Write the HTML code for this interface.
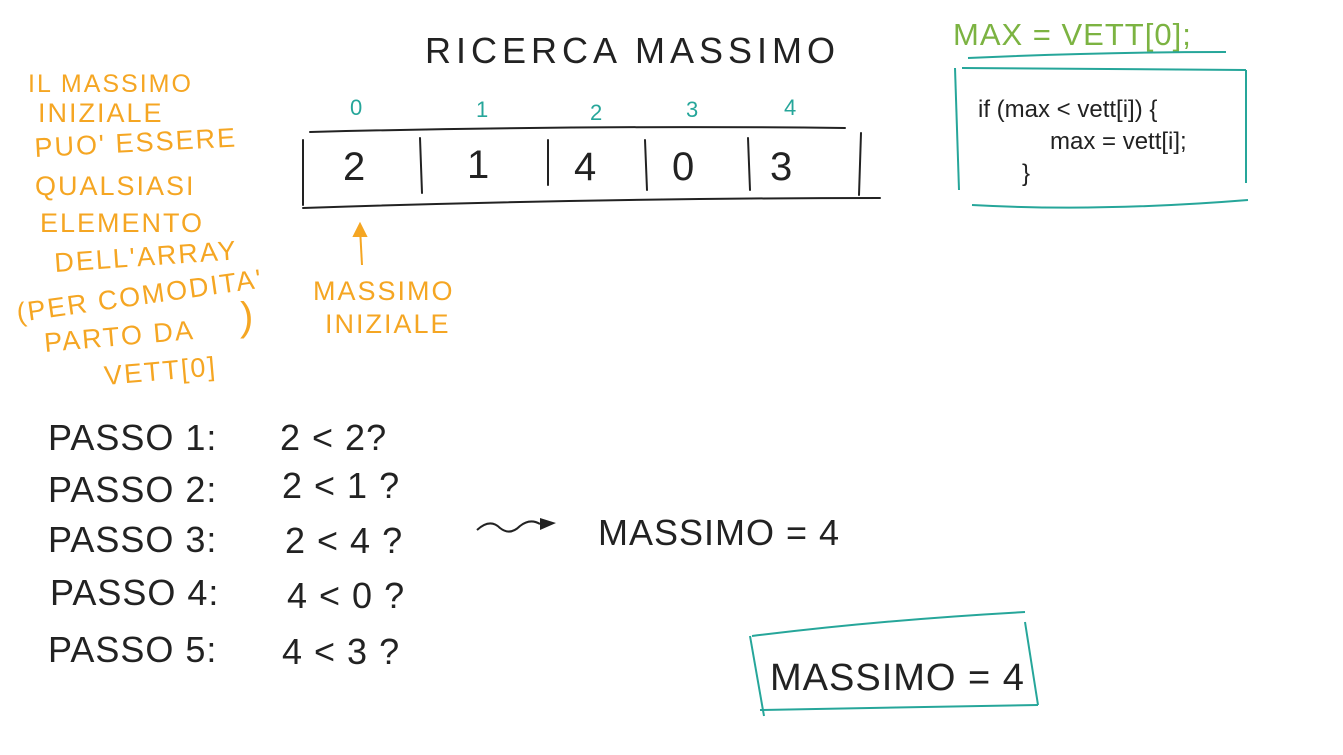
<!DOCTYPE html>
<html><head><meta charset="utf-8"><style>
html,body{margin:0;padding:0;background:#fff;width:1343px;height:755px;overflow:hidden}
svg{display:block}
.h{font-family:"Liberation Sans",sans-serif;font-weight:normal}
</style></head><body>
<svg width="1343" height="755" viewBox="0 0 1343 755" xmlns="http://www.w3.org/2000/svg">
<text class="h" x="425" y="63" font-size="36" letter-spacing="5" fill="#222">RICERCA  MASSIMO</text>
<g class="h" fill="#26a69a" font-size="22">
<text x="350" y="115">0</text><text x="476" y="117">1</text><text x="590" y="120">2</text><text x="686" y="117">3</text><text x="784" y="115">4</text>
</g>
<g stroke="#222" stroke-width="2" fill="none" stroke-linecap="round">
<path d="M310 132 Q580 125 845 128"/>
<path d="M303 208 Q600 198 880 198"/>
<path d="M303 140 L303 205"/><path d="M420 138 L422 193"/><path d="M548 140 L548 185"/><path d="M645 140 L647 190"/><path d="M748 138 L750 190"/><path d="M861 133 L859 195"/>
</g>
<g class="h" fill="#222" font-size="40">
<text x="343" y="180">2</text><text x="467" y="178">1</text><text x="574" y="180">4</text><text x="672" y="180">0</text><text x="770" y="180">3</text>
</g>
<g stroke="#f5a623" stroke-width="2" fill="#f5a623">
<path d="M362 265 L360 228" fill="none"/><path d="M354 236 L360 224 L366 236 Z"/>
</g>
<g class="h" fill="#f5a623" font-size="27" letter-spacing="2">
<text x="313" y="300">MASSIMO</text><text x="325" y="333">INIZIALE</text>
<text x="28" y="92" font-size="25">IL MASSIMO</text>
<text x="38" y="122">INIZIALE</text>
<text x="35" y="157" transform="rotate(-3 35 157)">PUO' ESSERE</text>
<text x="35" y="195">QUALSIASI</text>
<text x="40" y="232">ELEMENTO</text>
<text x="55" y="272" transform="rotate(-4 55 272)">DELL'ARRAY</text>
<text x="18" y="322" transform="rotate(-8 18 322)">(PER COMODITA'</text>
<text x="45" y="352" transform="rotate(-5 45 352)">PARTO DA</text>
<text x="240" y="330" font-size="40">)</text>
<text x="105" y="385" transform="rotate(-5 105 385)">VETT[0]</text>
</g>
<text class="h" x="953" y="45" font-size="31" fill="#7cb342" letter-spacing="1">MAX = VETT[0];</text>
<g stroke="#26a69a" stroke-width="2" fill="none">
<path d="M968 58 Q1100 52 1226 52"/>
<path d="M955 68 L959 190"/><path d="M962 68 L1246 70"/><path d="M1246 70 L1246 183"/><path d="M972 205 Q1100 212 1248 200"/>
<path d="M752 636 Q880 620 1025 612"/><path d="M750 636 L764 716"/><path d="M1025 622 L1038 705"/><path d="M760 710 Q900 708 1038 705"/>
</g>
<g font-family="Liberation Sans,sans-serif" font-size="24" fill="#222">
<text x="978" y="117">if (max &lt; vett[i]) {</text>
<text x="1050" y="149">max = vett[i];</text>
<text x="1022" y="181">}</text>
</g>
<g class="h" fill="#222" font-size="36" letter-spacing="1">
<text x="48" y="450">PASSO 1:</text><text x="280" y="450">2 &lt; 2?</text>
<text x="48" y="502">PASSO 2:</text><text x="282" y="498">2 &lt; 1 ?</text>
<text x="48" y="552">PASSO 3:</text><text x="285" y="553">2 &lt; 4 ?</text>
<text x="50" y="605">PASSO 4:</text><text x="287" y="608">4 &lt; 0 ?</text>
<text x="48" y="662">PASSO 5:</text><text x="282" y="664">4 &lt; 3 ?</text>
<text x="598" y="545">MASSIMO = 4</text>
<text x="770" y="690" font-size="38">MASSIMO = 4</text>
</g>
<path d="M477 530 Q490 518 500 528 Q510 536 520 526 Q530 518 540 524" stroke="#222" stroke-width="2" fill="none"/>
<path d="M540 518 L556 523 L540 530 Z" fill="#222"/>
</svg>
</body></html>
